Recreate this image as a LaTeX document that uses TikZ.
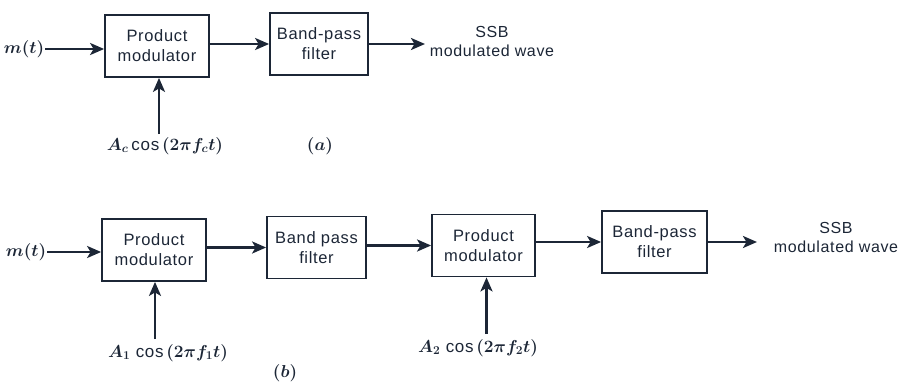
\documentclass[tikz,border=0pt]{standalone}
\usepackage{fontspec}
\setmainfont[LetterSpace=4]{Liberation Sans}
\usetikzlibrary{arrows.meta}
\definecolor{ink}{rgb}{0.11,0.15,0.21}
\tikzset{
  blk/.style={draw=ink, line width=1.8pt, minimum width=#1, minimum height=62pt, inner sep=0pt, align=center, text=ink, font=\fontsize{16.5}{20}\selectfont},
  blk/.default=104pt,
  sig/.style={draw=ink, line width=2.6pt, -{Stealth[length=14pt,width=12pt,inset=3.5pt]}},
  lbl/.style={text=ink, inner sep=1pt, font=\fontsize{17}{20}\selectfont},
  txt/.style={text=ink, inner sep=1pt, align=center, font=\fontsize{16}{19}\selectfont},
}
\newcommand{\bm}[1]{{\boldmath$#1$}}
\begin{document}
\begin{tikzpicture}[x=1pt,y=-1pt]
\useasboundingbox (0,0) rectangle (907,382);
% (a)
\node[lbl] (mta) at (24,49) {\bm{m(t)}};
\node[blk=104pt] (pma) at (157,46) {Product\\modulator};
\node[blk=98pt] (bpa) at (319,44) {Band-pass\\filter};
\coordinate (outa) at (425,44);
\node[txt] (ssba) at (492,41) {SSB\\modulated wave};
\node[lbl] (ca) at (165,146) {\bm{A_c}\,cos\,\bm{(2\pi f_c t)}};
\node[lbl] (capa) at (320,146) {\bm{(a)}};
\draw[sig] (mta.east) -- (mta.east -| pma.west);
\draw[sig] (pma.east |- bpa) -- (bpa.west);
\draw[sig] (bpa.east) -- (outa);
\draw[sig] (pma.south |- ca.north) ++(2,-2) -- ([xshift=2pt]pma.south);
% (b)
\node[lbl] (mtb) at (26,252) {\bm{m(t)}};
\node[blk=104pt] (pmb) at (154,250) {Product\\modulator};
\node[blk=99pt] (bpb) at (316.5,247.5) {Band pass\\filter};
\node[blk=103pt] (pmc) at (483.5,245.5) {Product\\modulator};
\node[blk=105pt] (bpc) at (654.5,242) {Band-pass\\filter};
\coordinate (outb) at (757,242);
\node[txt] (ssbb) at (836,237) {SSB\\modulated wave};
\node[lbl] (cb) at (168,353) {\bm{A_1}\ cos\,\bm{(2\pi f_1 t)}};
\node[lbl] (cc) at (478,348) {\bm{A_2}\ cos\,\bm{(2\pi f_2 t)}};
\node[lbl] (capb) at (285,373) {\bm{(b)}};
\draw[sig] (mtb.east) -- (mtb.east -| pmb.west);
\draw[sig] (pmb.east |- bpb) -- (bpb.west);
\draw[sig] (bpb.east |- pmc) -- (pmc.west);
\draw[sig] (pmc.east |- bpc) -- (bpc.west);
\draw[sig] (bpc.east) -- (outb);
\draw[sig] ([xshift=1pt]pmb.south |- cb.north) ++(0,-4) -- ([xshift=1pt]pmb.south);
\draw[sig] ([xshift=3pt]pmc.south |- cc.north) ++(0,-4) -- ([xshift=3pt]pmc.south);
\end{tikzpicture}
\end{document}
